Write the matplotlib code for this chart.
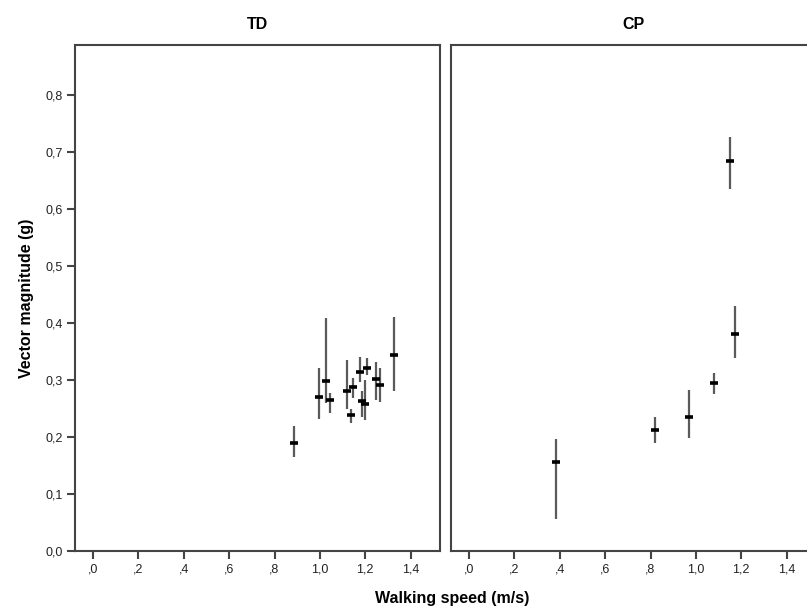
import matplotlib
matplotlib.use('Agg')
import matplotlib.pyplot as plt
from matplotlib.ticker import FuncFormatter

plt.rcParams['font.family'] = ['Liberation Sans', 'DejaVu Sans']

# TD group: walking speed, mean VM, upper and lower error limits
td_speed = [0.887, 0.997, 1.026, 1.047, 1.119, 1.137, 1.147, 1.178, 1.188, 1.201, 1.208, 1.248, 1.267, 1.327]
td_vm = [0.190, 0.271, 0.298, 0.265, 0.281, 0.239, 0.287, 0.315, 0.264, 0.258, 0.321, 0.302, 0.292, 0.344]
td_hi = [0.219, 0.322, 0.409, 0.277, 0.335, 0.249, 0.303, 0.341, 0.280, 0.300, 0.338, 0.332, 0.322, 0.410]
td_lo = [0.165, 0.231, 0.259, 0.242, 0.250, 0.225, 0.268, 0.297, 0.236, 0.230, 0.309, 0.265, 0.262, 0.281]

# CP group
cp_speed = [0.385, 0.820, 0.970, 1.080, 1.149, 1.173]
cp_vm = [0.156, 0.212, 0.236, 0.294, 0.685, 0.381]
cp_hi = [0.196, 0.235, 0.282, 0.313, 0.726, 0.430]
cp_lo = [0.057, 0.190, 0.199, 0.275, 0.635, 0.338]

groups = ['TD', 'CP']
xticks = [0.0, 0.2, 0.4, 0.6, 0.8, 1.0, 1.2, 1.4]
yticks = [0.0, 0.1, 0.2, 0.3, 0.4, 0.5, 0.6, 0.7, 0.8]


def comma(v, pos):
    s = '%.1f' % v
    if s.startswith('0.'):
        s = s[1:]
    return s.replace('.', ',')


def ycomma(v, pos):
    return ('%.1f' % v).replace('.', ',')


W, H = 807, 612
fig = plt.figure(figsize=(W / 100, H / 100), dpi=100)
ax1 = fig.add_axes([75 / W, 61 / H, 365 / W, 506 / H])
ax2 = fig.add_axes([451 / W, 61 / H, 365 / W, 506 / H])

data = [(td_speed, td_vm, td_hi, td_lo), (cp_speed, cp_vm, cp_hi, cp_lo)]
for ax, name, (xs, ys, hi, lo) in zip([ax1, ax2], groups, data):
    yerr = [[y - l for y, l in zip(ys, lo)], [h - y for y, h in zip(ys, hi)]]
    ax.errorbar(xs, ys, yerr=yerr, fmt='none', ecolor='#5a5a5a', elinewidth=1.6, capsize=0)
    ax.plot(xs, ys, linestyle='none', marker='_', markersize=6, mew=2.6, color='black')
    ax.set_xlim(-0.08, 1.53)
    ax.set_ylim(0, 0.888)
    ax.set_xticks(xticks)
    ax.xaxis.set_major_formatter(FuncFormatter(comma))
    ax.set_yticks(yticks)
    ax.yaxis.set_major_formatter(FuncFormatter(ycomma))
    for s in ax.spines.values():
        s.set_color('#444444')
        s.set_linewidth(1.5)
    ax.tick_params(axis='both', direction='out', length=6, width=1.5, color='#444444',
                   labelsize=9, labelcolor='#222222', pad=3)
    ax.text(0.5, 1.026, name, transform=ax.transAxes, ha='center', va='bottom',
            fontsize=11.5, fontweight='bold')

ax2.tick_params(axis='y', left=False, labelleft=False)

ax1.set_ylabel('Vector magnitude (g)', fontsize=11.5, fontweight='bold', labelpad=8)
fig.text(452 / W, 1 - 598 / H, 'Walking speed (m/s)', ha='center', va='center',
         fontsize=11.5, fontweight='bold')

fig.savefig('out.png', dpi=100)
